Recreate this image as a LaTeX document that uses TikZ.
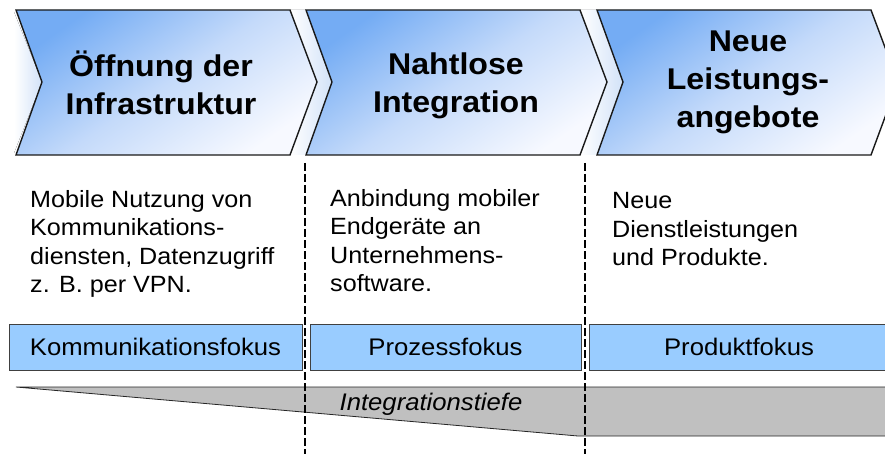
\documentclass[tikz,border=0pt]{standalone}
\usepackage{fontspec}
\setmainfont{Liberation Sans}[FakeStretch=1.07]
\definecolor{chevTop}{HTML}{74ACF4}
\definecolor{chevMid}{HTML}{C4DAFA}
\definecolor{chevBot}{HTML}{F7F9FF}
\definecolor{gapBlue}{HTML}{D2E2F8}
\definecolor{focusBlue}{HTML}{99CCFF}
\definecolor{wedgeGray}{HTML}{C0C0C0}
\begin{document}
\begin{tikzpicture}[x=1pt,y=-1pt,
  chevron/.style={draw=black!90, line width=1.4pt, line join=miter,
    top color=chevTop, bottom color=chevBot, middle color=chevMid, shading angle=35},
  gapfade/.style={left color=white, right color=gapBlue},
  title/.style={font=\bfseries\fontsize{30}{38}\selectfont, align=center,
    anchor=south, inner sep=0pt, text depth=0pt},
  body/.style={font=\fontsize{23.5}{28.5}\selectfont, align=left,
    anchor=south west, inner sep=0pt, text depth=0pt},
  focus/.style={draw=black!75, line width=0.8pt, fill=focusBlue,
    minimum height=46pt, inner sep=0pt, font=\fontsize{24}{28}\selectfont},
  wedge/.style={draw=black!85, line width=0.8pt, fill=wedgeGray},
  sep/.style={line width=1.5pt, dash pattern=on 8pt off 3pt}]
\useasboundingbox (0,0) rectangle (885,454);
\clip (0,0) rectangle (885,454);

% soft streaks in the gaps next to the chevrons
\fill[gapfade] (14,12) -- (42,82) -- (14,153) -- cycle;
\fill[gapfade] (290,10) -- (306,10) -- (332,82) -- (306,155) -- (290,155) -- (317,82) -- cycle;
\fill[gapfade] (580,10) -- (597,10) -- (623,82) -- (597,155) -- (580,155) -- (607,82) -- cycle;

% the three phase chevrons
\path[chevron] (16,10) -- (290,10) -- (317,82) -- (290,155) -- (16,155) -- (42,82) -- cycle;
\path[chevron] (306,10) -- (580,10) -- (607,82) -- (580,155) -- (306,155) -- (332,82) -- cycle;
\path[chevron] (597,10) -- (871,10) -- (898,82) -- (871,155) -- (597,155) -- (623,82) -- cycle;

\node[title] (t1) at (161,115) {Öffnung der\\Infrastruktur};
\node[title] (t2) at (456,113) {Nahtlose\\Integration};
\node[title] (t3) at (748,128) {Neue\\Leistungs-\\angebote};

% descriptions
\node[body] (d1) at (30,293) {Mobile Nutzung von\\Kommunikations-\\diensten, Datenzugriff\\z. B. per VPN.};
\node[body] (d2) at (330,292) {Anbindung mobiler\\Endgeräte an\\Unternehmens-\\software.};
\node[body] (d3) at (612,266) {Neue\\Dienstleistungen\\und Produkte.};

% focus bars
\node[focus, minimum width=293pt] (f1) at (155.5,347) {Kommunikationsfokus};
\node[focus, minimum width=271pt] (f2) at (445.5,347) {Prozessfokus};
\node[focus, minimum width=300pt] (f3) at (739,347) {Produktfokus};

% growing integration depth
\path[wedge] (16,387) -- (900,387) -- (900,436) -- (578,436) -- cycle;
\node[font=\itshape\fontsize{24}{28}\selectfont, anchor=base, inner sep=0pt] (depth) at (431,410) {Integrationstiefe};

% phase separators
\coordinate (s1top) at (305,163);
\coordinate (s1bot) at (305,456);
\coordinate (s2top) at (585,163);
\coordinate (s2bot) at (585,456);
\draw[sep] (s1top) -- (s1bot);
\draw[sep] (s2top) -- (s2bot);
\end{tikzpicture}
\end{document}
